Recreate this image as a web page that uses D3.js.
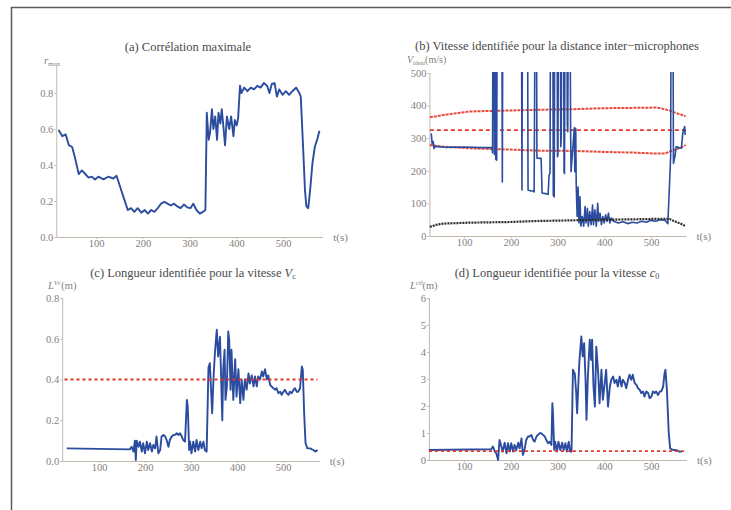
<!DOCTYPE html>
<html><head><meta charset="utf-8">
<script src="https://cdn.jsdelivr.net/npm/d3@7"></script>
<style>
html,body{margin:0;padding:0;background:#fff;}
svg{display:block;}
text{font-family:"Liberation Serif","Times New Roman","DejaVu Serif",serif;}
</style></head>
<body>
<svg id="chart" width="731" height="510"></svg>
<script>
// ---------- DATA ----------
const titles = [
  "(a) Corrélation maximale",
  "(b) Vitesse identifiée pour la distance inter\u2212microphones",
  "(c) Longueur identifiée pour la vitesse ",
  "(d) Longueur identifiée pour la vitesse "
];
const xTicks = [100, 200, 300, 400, 500];
const aTicks = [0, 0.2, 0.4, 0.6, 0.8];
const bTicks = [0, 100, 200, 300, 400, 500];
const cTicks = [0, 0.2, 0.4, 0.6, 0.8];
const dTicks = [0, 1, 2, 3, 4, 5, 6];

// (a) maximal correlation
const aTime = [20,28,35,42,49,56,63,70,77,84,91,98,105,116,126,137,144,149,154,161,168,175,182,189,197,204,211,218,225,232,239,246,253,260,267,274,281,288,295,302,308,315,322,329,334,337,341,344,348,351,355,359,362,366,369,373,376,380,385,389,394,397,401,404,408,411,417,424,431,438,445,452,459,466,471,476,482,487,492,499,506,513,520,528,535,538,543,547,550,554,558,563,568,573,578];
const aValue = [0.595,0.56,0.57,0.51,0.50,0.43,0.35,0.37,0.35,0.33,0.335,0.32,0.335,0.32,0.335,0.325,0.34,0.30,0.26,0.205,0.15,0.16,0.14,0.16,0.135,0.15,0.13,0.15,0.14,0.16,0.185,0.195,0.185,0.175,0.185,0.17,0.16,0.18,0.165,0.16,0.185,0.15,0.13,0.14,0.15,0.69,0.54,0.58,0.71,0.60,0.67,0.54,0.69,0.63,0.71,0.60,0.51,0.67,0.60,0.67,0.56,0.65,0.62,0.66,0.84,0.80,0.83,0.81,0.83,0.82,0.84,0.83,0.855,0.84,0.80,0.85,0.855,0.78,0.82,0.79,0.81,0.79,0.81,0.83,0.80,0.78,0.50,0.26,0.17,0.16,0.26,0.41,0.50,0.54,0.59];

// (b) identified speed (values above 500 leave the frame)
const bTime = [30,32,34,36,38,60,100,140,160,161,162,164,165,166,167,168,170,171,181,182,183,223,224,225,236,237,243,248,250,252,255,256,265,267,274,280,282,284,285,290,291,293,294,299,300,301,302,306,307,308,309,313,314,315,316,320,321,322,323,327,328,329,336,337,338,339,340,342,344,346,348,350,353,356,359,361,364,366,369,372,375,377,380,383,386,388,391,394,397,400,403,406,409,412,415,420,430,440,450,460,470,480,490,500,510,520,530,536,540,542,543,547,548,551,554,565,568,572,573];
const bValue = [315,282,290,268,275,272,273,271,272,255,700,700,250,700,700,235,233,700,700,166,700,700,141,700,700,141,138,138,135,700,700,239,238,132,130,128,187,192,700,700,125,120,700,700,243,250,700,700,274,300,700,700,197,192,700,700,341,320,700,700,330,197,332,197,330,330,160,60,150,40,120,30,60,30,90,40,85,30,75,35,95,35,80,30,100,45,70,35,60,40,65,45,70,40,55,45,40,44,38,42,40,45,42,48,45,50,48,38,171,243,700,700,223,243,274,269,315,336,310];
const bUpperTime = [27,60,112,200,255,330,397,460,511,526,540,554,565,574];
const bUpperValue = [364,372,382,385,387,389,392,393,394,390,385,377,372,367];
const bLowerTime = [27,55,112,200,255,330,397,460,511,530,540,554,565,574];
const bLowerValue = [279,274,269,265,262,261,258,256,253,253,259,266,272,279];
const bBlackTime = [27,40,55,112,200,255,330,397,460,526,540,554,565,574];
const bBlackValue = [28,34,38,41,43,46,48,50,51,53,52,43,37,30];
const bRefTime = [27,575];
const bRefValue = [325,325];

// (c) length identified for speed Vc
const cTime = [30,167,171,175,178,180,182,186,189,193,196,200,204,207,211,215,218,222,225,229,233,236,240,244,247,251,254,258,262,265,269,273,276,280,283,287,291,293,296,298,301,305,309,312,316,320,323,327,330,334,338,341,344,346,349,352,356,359,363,365,368,370,373,375,378,381,383,386,388,392,396,399,403,407,410,414,417,421,425,428,432,436,439,443,446,450,454,457,461,465,468,472,475,479,483,486,490,494,497,501,504,508,512,515,519,523,526,530,533,537,541,543,546,549,553,559,566,571,575];
const cValue = [0.062,0.057,0.07,0.046,0.10,0.005,0.10,0.07,0.095,0.046,0.087,0.038,0.095,0.054,0.087,0.046,0.079,0.062,0.12,0.038,0.054,0.12,0.128,0.12,0.103,0.07,0.103,0.12,0.128,0.128,0.136,0.128,0.136,0.12,0.103,0.095,0.30,0.267,0.054,0.095,0.038,0.095,0.046,0.103,0.054,0.095,0.062,0.095,0.054,0.046,0.46,0.48,0.33,0.234,0.41,0.53,0.644,0.513,0.61,0.45,0.20,0.45,0.546,0.30,0.366,0.636,0.595,0.35,0.546,0.30,0.50,0.316,0.45,0.284,0.40,0.30,0.40,0.35,0.43,0.38,0.42,0.366,0.415,0.366,0.415,0.40,0.44,0.415,0.45,0.40,0.42,0.374,0.366,0.357,0.35,0.357,0.333,0.34,0.325,0.34,0.35,0.333,0.325,0.34,0.333,0.35,0.357,0.34,0.34,0.357,0.464,0.448,0.234,0.087,0.062,0.062,0.054,0.046,0.054];
const cRefTime = [25,575];
const cRefValue = [0.4,0.4];

// (d) length identified for speed c0
const dTime = [25,158,162,166,169,173,176,180,183,187,191,194,198,201,205,208,212,216,219,223,226,230,233,237,240,244,248,251,255,258,262,265,269,273,276,280,283,287,289,290,293,295,299,302,306,310,313,317,320,324,327,330,333,337,340,342,345,347,351,354,357,360,362,365,369,372,374,377,380,383,387,390,394,397,401,404,408,412,415,419,422,426,429,433,437,440,444,447,451,454,458,461,465,469,472,476,479,483,486,490,494,497,501,504,508,511,515,519,522,526,529,531,534,538,541,547,554,561,566];
const dValue = [0.37,0.40,0.5,0.31,0.25,0.0,0.74,0.5,0.31,0.64,0.25,0.62,0.31,0.62,0.31,0.56,0.37,0.64,0.43,0.8,0.19,0.43,0.74,0.87,0.87,0.93,0.74,0.68,0.87,0.93,0.99,0.99,0.93,0.87,0.74,0.62,0.68,0.56,2.1,1.86,0.37,0.68,0.31,0.68,0.37,0.64,0.37,0.62,0.31,0.68,0.31,0.31,3.34,3.2,2.48,1.73,2.97,3.7,4.58,3.84,4.33,2.97,1.49,3.09,4.46,3.71,4.46,2.72,1.98,4.2,3.22,2.1,3.34,2.23,2.85,3.34,1.98,2.72,2.97,3.09,2.85,2.97,2.72,3.09,2.72,2.97,2.85,2.66,2.97,3.16,2.97,3.16,2.85,2.78,2.66,2.6,2.48,2.54,2.35,2.54,2.48,2.29,2.35,2.54,2.48,2.54,2.41,2.54,2.54,2.72,3.22,3.34,2.6,0.99,0.43,0.37,0.37,0.31,0.31];
const dRefTime = [25,575];
const dRefValue = [0.33,0.33];

// ---------- DRAW ----------
const svg = d3.select("#chart");
const BLUE = "#2b4c9f", RED = "#e8352b", AXIS = "#c4b8ad", TICKTXT = "#85807c", TITLE = "#4a4a4a";
const SERIF = '"Liberation Serif","Times New Roman","DejaVu Serif",serif';

// outer frame
svg.append("path").attr("d", "M11.5,510V7.5H731").attr("fill", "none")
  .attr("stroke", "#5a5a5a").attr("stroke-width", 1.5);

const zip = (t, v) => t.map((d, i) => [d, v[i]]);

function panel(o) {
  const g = svg.append("g").attr("font-family", SERIF);
  const x = d3.scaleLinear().domain([100, 500]).range(o.xr);
  const y = d3.scaleLinear().domain(o.yd).range(o.yr);
  const x0 = x(o.tSpan[0]), x1 = x(o.tSpan[1]);
  const yTop = y(o.yTopVal);

  const gx = g.append("g").attr("transform", `translate(0,${y(0)})`)
    .call(d3.axisBottom(x).tickValues(xTicks).tickSize(2).tickPadding(1).tickFormat(d3.format("d")));
  gx.select(".domain").attr("d", `M${x0},0.5H${x1}`).attr("stroke", AXIS);
  const gy = g.append("g").attr("transform", `translate(${x0},0)`)
    .call(d3.axisLeft(y).tickValues(o.yTicks).tickSize(2).tickPadding(1).tickFormat(o.fmt));
  gy.select(".domain").attr("d", `M0.5,${y(0)}V${yTop}`).attr("stroke", AXIS);
  g.selectAll(".tick line").attr("stroke", AXIS);
  g.selectAll("g").attr("font-family", SERIF);
  g.selectAll(".tick text").attr("fill", TICKTXT).style("font-size", "10.5px").style("font-family", SERIF);

  g.append("text").attr("x", x1 + 10).attr("y", y(0) + 4).attr("fill", TICKTXT)
    .style("font-size", "11px").text("t(s)");

  const clipId = "clip" + o.id;
  g.append("clipPath").attr("id", clipId).append("rect")
    .attr("x", x0 - 5).attr("y", yTop - 1).attr("width", x1 - x0 + 20).attr("height", y(0) - yTop + 10);
  const plot = g.append("g").attr("clip-path", `url(#${clipId})`);
  const line = d3.line().x(d => x(d[0])).y(d => y(d[1]));

  (o.extra || []).forEach(s => {
    plot.append("path").datum(zip(s.t, s.v)).attr("d", line).attr("fill", "none")
      .attr("stroke", s.color).attr("stroke-width", s.w).attr("stroke-dasharray", s.dash);
  });
  plot.append("path").datum(zip(o.t, o.v)).attr("d", line).attr("fill", "none")
    .attr("stroke", BLUE).attr("stroke-width", o.bw || 1.9).attr("stroke-linejoin", "round");
  (o.over || []).forEach(s => {
    plot.append("path").datum(zip(s.t, s.v)).attr("d", line).attr("fill", "none")
      .attr("stroke", s.color).attr("stroke-width", s.w).attr("stroke-dasharray", s.dash);
  });
}

// (a)
panel({id: "a", xr: [96, 283], tSpan: [15, 586], yd: [0, 0.8], yr: [237, 93], yTopVal: 0.95,
  yTicks: aTicks, fmt: d3.format(".1f"), t: aTime, v: aValue});
svg.append("text").attr("x", 188).attr("y", 51).attr("text-anchor", "middle").attr("fill", TITLE)
  .style("font-size", "12.5px").text(titles[0]);
const la = svg.append("text").attr("x", 44).attr("y", 64).attr("fill", TICKTXT).style("font-size", "11px");
la.append("tspan").style("font-style", "italic").text("r");
la.append("tspan").attr("dy", 2).style("font-size", "7px").text("max");

// (b)
panel({id: "b", xr: [464, 651], tSpan: [26, 576], yd: [0, 500], yr: [236, 73], yTopVal: 500,
  yTicks: bTicks, fmt: d3.format("d"), t: bTime, v: bValue, bw: 1.6,
  extra: [
    {t: bUpperTime, v: bUpperValue, color: "#e8483a", w: 2, dash: "3,1"},
    {t: bLowerTime, v: bLowerValue, color: "#e8483a", w: 2, dash: "3,1"},
    {t: bRefTime, v: bRefValue, color: RED, w: 1.8, dash: "4,3"}
  ],
  over: [
    {t: bBlackTime, v: bBlackValue, color: "#2a2a2a", w: 2.2, dash: "2,1"}
  ]});
svg.append("text").attr("x", 557).attr("y", 49.5).attr("text-anchor", "middle").attr("fill", TITLE)
  .style("font-size", "12.5px").text(titles[1]);
const lb = svg.append("text").attr("x", 407).attr("y", 63).attr("fill", TICKTXT).style("font-size", "10px");
lb.append("tspan").style("font-style", "italic").text("V");
lb.append("tspan").attr("dy", 1.5).style("font-size", "6px").text("ident");
lb.append("tspan").attr("dy", -1.5).text("(m/s)");

// (c)
panel({id: "c", xr: [99, 283], tSpan: [20, 580], yd: [0, 0.8], yr: [461, 298], yTopVal: 0.8,
  yTicks: cTicks, fmt: d3.format(".1f"), t: cTime, v: cValue,
  over: [{t: cRefTime, v: cRefValue, color: RED, w: 1.8, dash: "3,3"}]});
const tc = svg.append("text").attr("x", 193).attr("y", 277).attr("text-anchor", "middle").attr("fill", TITLE)
  .style("font-size", "12.5px");
tc.append("tspan").text(titles[2]);
tc.append("tspan").style("font-style", "italic").text("V");
tc.append("tspan").attr("dy", 2).style("font-size", "8px").text("c");
const lc = svg.append("text").attr("x", 48).attr("y", 289).attr("fill", TICKTXT).style("font-size", "10.5px");
lc.append("tspan").style("font-style", "italic").text("L");
lc.append("tspan").attr("dy", -4).style("font-size", "7px").style("font-style", "italic").text("Vc");
lc.append("tspan").attr("dy", 4).text("(m)");

// (d)
panel({id: "d", xr: [464, 651], tSpan: [25, 577], yd: [0, 6], yr: [460, 298], yTopVal: 6,
  yTicks: dTicks, fmt: d3.format("d"), t: dTime, v: dValue,
  over: [{t: dRefTime, v: dRefValue, color: RED, w: 1.8, dash: "3,3"}]});
const td = svg.append("text").attr("x", 557).attr("y", 277).attr("text-anchor", "middle").attr("fill", TITLE)
  .style("font-size", "12.5px");
td.append("tspan").text(titles[3]);
td.append("tspan").style("font-style", "italic").text("c");
td.append("tspan").attr("dy", 2).style("font-size", "8px").text("0");
const ld = svg.append("text").attr("x", 410).attr("y", 289).attr("fill", TICKTXT).style("font-size", "10.5px");
ld.append("tspan").style("font-style", "italic").text("L");
ld.append("tspan").attr("dy", -4).style("font-size", "7px").style("font-style", "italic").text("c0");
ld.append("tspan").attr("dy", 4).text("(m)");
</script>
</body></html>
